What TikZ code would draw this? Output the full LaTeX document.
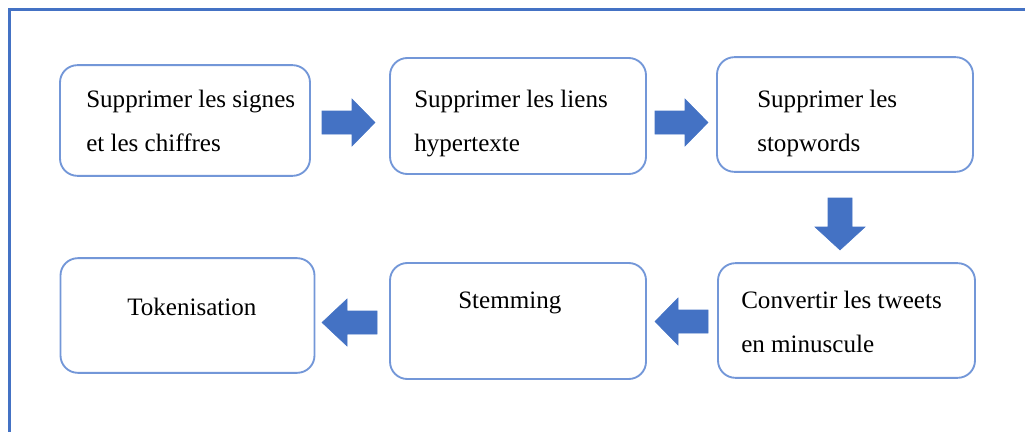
\documentclass[tikz,border=0pt]{standalone}
\usepackage{fontspec}
\setmainfont{Liberation Serif}
\definecolor{frameblue}{HTML}{4472C4}
\definecolor{boxblue}{HTML}{7397D8}
\definecolor{arrowblue}{HTML}{4472C4}
\tikzset{
  stepbox/.style={draw=boxblue, line width=1.4pt, rounded corners=13pt,
    fill=white, inner sep=0pt},
  steptext/.style={anchor=base west, inner sep=0pt, text=black,
    font=\fontsize{18.8pt}{22pt}\selectfont},
  blockarrow/.style={fill=arrowblue, draw=arrowblue, line width=0.4pt, line join=miter},
}
\begin{document}
\begin{tikzpicture}[x=0.75pt, y=-0.75pt]
  \useasboundingbox (0,0) rectangle (1025,432);
  % outer frame (top and left edges)
  \draw[frameblue, line width=2.3pt] (9.5,432) -- (9.5,9.5) -- (1025,9.5);

  % step boxes
  \node[stepbox, minimum width=187.5pt, minimum height=83pt] (b1) at (185,120.5) {};
  \node[stepbox, minimum width=192pt, minimum height=87pt] (b2) at (518,116) {};
  \node[stepbox, minimum width=192pt, minimum height=86pt] (b3) at (845,114.5) {};
  \node[stepbox, minimum width=190.5pt, minimum height=86pt] (b4) at (187.5,315.5) {};
  \node[stepbox, minimum width=192pt, minimum height=87pt] (b5) at (518,321) {};
  \node[stepbox, minimum width=192.75pt, minimum height=86pt] (b6) at (846.5,320.5) {};

  % texts
  \node[steptext] (t1a) at (86,107) {Supprimer les signes};
  \node[steptext] (t1b) at (86,151) {et les chiffres};
  \node[steptext] (t2a) at (414,107) {Supprimer les liens};
  \node[steptext] (t2b) at (414,151) {hypertexte};
  \node[steptext] (t3a) at (757,107) {Supprimer les};
  \node[steptext] (t3b) at (757,151) {stopwords};
  \node[steptext] (t4) at (127,315) {Tokenisation};
  \node[steptext] (t5) at (458,308) {Stemming};
  \node[steptext] (t6a) at (741,308) {Convertir les tweets};
  \node[steptext] (t6b) at (741,352) {en minuscule};

  % block arrows between the steps
  \fill[blockarrow] (322,111) -- (352,111) -- (352,99) -- (375,122.5)
    -- (352,146) -- (352,134) -- (322,134) -- cycle;
  \fill[blockarrow] (655,111) -- (685,111) -- (685,99) -- (708,122.5)
    -- (685,146) -- (685,134) -- (655,134) -- cycle;
  \fill[blockarrow] (828,198) -- (852,198) -- (852,227) -- (865,227)
    -- (840,250) -- (815,227) -- (828,227) -- cycle;
  \fill[blockarrow] (708,310) -- (678,310) -- (678,298) -- (655,321.5)
    -- (678,345) -- (678,333) -- (708,333) -- cycle;
  \fill[blockarrow] (377,311) -- (347,311) -- (347,299) -- (322,322.5)
    -- (347,346) -- (347,334) -- (377,334) -- cycle;
\end{tikzpicture}
\end{document}
